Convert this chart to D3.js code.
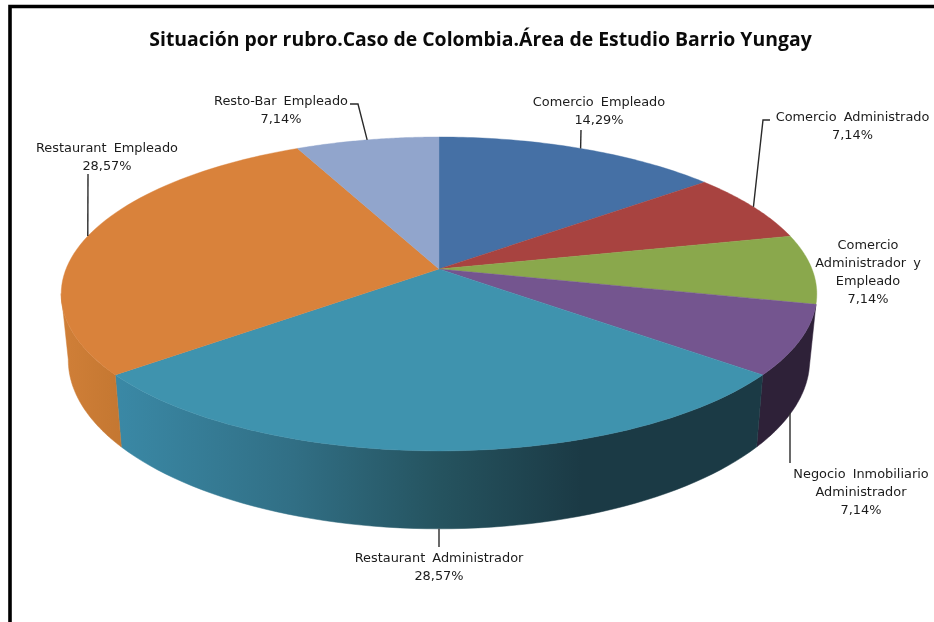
<!DOCTYPE html>
<html><head><meta charset="utf-8">
<script src="https://cdn.jsdelivr.net/npm/d3@7/dist/d3.min.js"></script>
<style>html,body{margin:0;padding:0;background:#fff}svg{display:block;filter:blur(0.45px)}</style>
</head><body><div id="c"></div>
<script>
const title = "Situación por rubro.Caso de Colombia.Área de Estudio Barrio Yungay";
const categories = ["Comercio Empleado","Comercio Administrado","Comercio Administrador y Empleado","Negocio Inmobiliario Administrador","Restaurant Administrador","Restaurant Empleado","Resto-Bar Empleado"];
const values = [14.29,7.14,7.14,7.14,28.57,28.57,7.14];
const labelLines = [["Comercio Empleado","14,29%"],["Comercio Administrado","7,14%"],["Comercio","Administrador y","Empleado","7,14%"],["Negocio Inmobiliario","Administrador","7,14%"],["Restaurant Administrador","28,57%"],["Restaurant Empleado","28,57%"],["Resto-Bar Empleado","7,14%"]];
const topColors = ["#4570a5","#a84340","#8aa84c","#74558f","#3f93ae","#d9823b","#91a5cc"];

// layout (separate from data)
const W=934,H=622;
const labelPos = [[599,106],[852.5,121],[868,248.5],[861,478],[439,562],[107,152],[281,105]];
// leader: elbow points (from the label to the rim), rim = top or lower rim at slice middle
const leaders = [
 {i:0,pts:[[581,130]],rim:"top"},
 {i:1,pts:[[770,120],[763,120]],rim:"top"},
 {i:3,pts:[[790,463],[790,430]],rim:"low",sx:true},
 {i:4,pts:[[439,547]],rim:"low"},
 {i:5,pts:[[88,174]],rim:"top"},
 {i:6,pts:[[350,104],[358,104]],rim:"top"}
];
const cx=439, p=0.159;
const topRim={c:269,A:373,B:153}, lowRim={c:333,A:366,B:164.7};
const project=(r,t,f=1)=>{const u=Math.sin(t),v=Math.cos(t),d=1+p*v;return [cx+r.A*f*u/d,r.c-r.B*f*v/d];};

const svg=d3.select("#c").append("svg").attr("width",W).attr("height",H);
svg.append("rect").attr("width",W).attr("height",H).attr("fill","#fff");
// frame
svg.append("path").attr("d",`M10,${H}V6.5H${W}`).attr("fill","none").attr("stroke","#000").attr("stroke-width",3.6);

const defs=svg.append("defs");
const teal=defs.append("linearGradient").attr("id","gTeal").attr("gradientUnits","userSpaceOnUse").attr("x1",120).attr("x2",760).attr("y1",0).attr("y2",0);
[[0,"#3a88a5"],[0.27,"#316f85"],[0.5,"#25535f"],[0.72,"#1b3a45"],[1,"#1b3a45"]].forEach(s=>teal.append("stop").attr("offset",s[0]).attr("stop-color",s[1]));
const orange=defs.append("linearGradient").attr("id","gOrange").attr("gradientUnits","userSpaceOnUse").attr("x1",61).attr("x2",122).attr("y1",0).attr("y2",0);
[[0,"#d07f38"],[1,"#c47731"]].forEach(s=>orange.append("stop").attr("offset",s[0]).attr("stop-color",s[1]));
const sideFill={3:"#2e2138",4:"url(#gTeal)",5:"url(#gOrange)"};

const slices=d3.pie().sort(null).value(d=>d)(values);
const line=d3.line();
const arcPts=(r,a,b)=>d3.range(0,61).map(k=>project(r,a+(b-a)*k/60));

const frontA=102*Math.PI/180, frontB=261*Math.PI/180;
// sides
slices.forEach((s,i)=>{
  const a=Math.max(s.startAngle,frontA), b=Math.min(s.endAngle,frontB);
  if(b-a<2*Math.PI/180) return;
  const pts=arcPts(topRim,a,b).concat(arcPts(lowRim,b,a));
  svg.append("path").attr("d",line(pts)+"Z").attr("fill",sideFill[i]||d3.color(topColors[i]).darker(1)).attr("stroke",sideFill[i]||"none").attr("stroke-width",0.5);
});
// top faces
slices.forEach((s,i)=>{
  const pts=[[cx,topRim.c]].concat(arcPts(topRim,s.startAngle,s.endAngle));
  svg.append("path").attr("d",line(pts)+"Z").attr("fill",topColors[i]).attr("stroke",topColors[i]).attr("stroke-width",0.4);
});
// leaders
leaders.forEach(l=>{
  const s=slices[l.i], mid=(s.startAngle+s.endAngle)/2;
  const end=project(l.rim==="top"?topRim:lowRim,mid);
  let pts=l.pts.concat([end]);
  if(l.sx){ pts=[l.pts[0],[l.pts[0][0],end[1]+3]]; }
  svg.append("path").attr("d",line(pts)).attr("fill","none").attr("stroke","#2a2a2a").attr("stroke-width",1.4);
});
// labels
const font="'DejaVu Sans',sans-serif";
labelLines.forEach((ls,i)=>{
  const t=svg.append("text").attr("text-anchor","middle").attr("font-family",font).attr("font-size",12.9).attr("word-spacing",3).attr("fill","#1c1c1c");
  ls.forEach((txt,k)=>t.append("tspan").attr("x",labelPos[i][0]).attr("y",labelPos[i][1]+k*18).text(txt));
});
svg.append("text").attr("x",480.5).attr("y",45.5).attr("text-anchor","middle").attr("font-family","'Open Sans',sans-serif").attr("font-weight",700).attr("font-size",19.4).attr("fill","#0a0a0a").text(title);
</script></body></html>
